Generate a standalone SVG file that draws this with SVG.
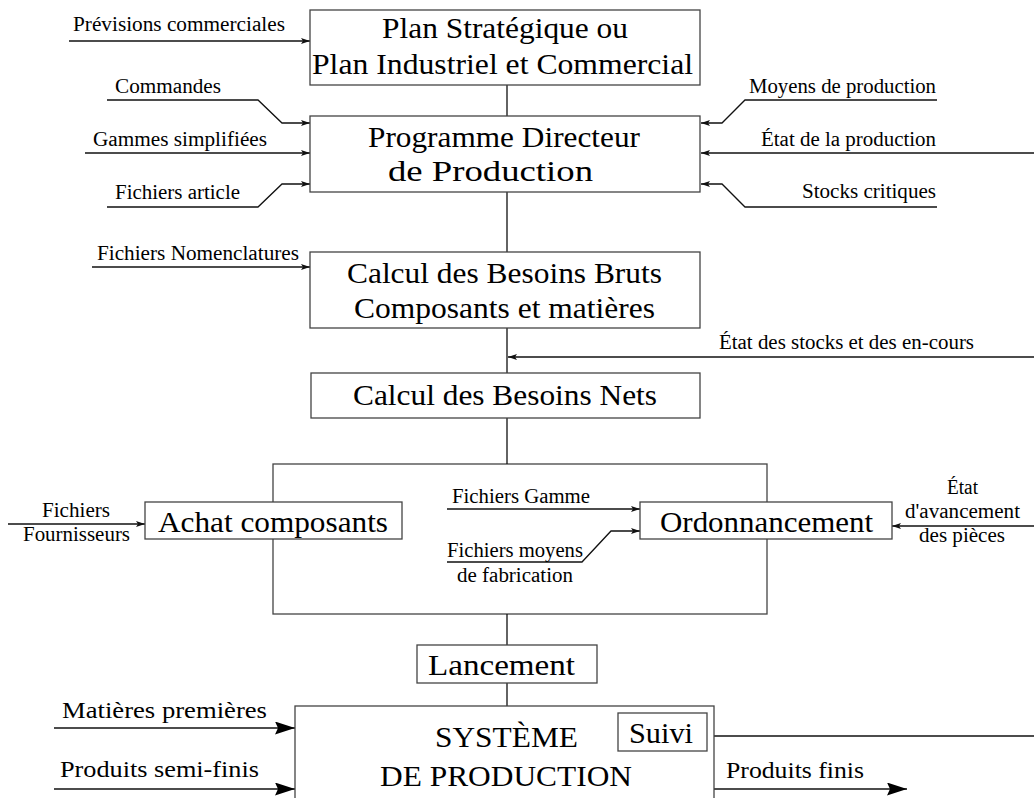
<svg xmlns="http://www.w3.org/2000/svg" width="1034" height="798" viewBox="0 0 1034 798">
<defs>
<style>
.box{fill:#fff;stroke:#444;stroke-width:1.3}
.ln{fill:none;stroke:#111;stroke-width:1.3}
.t{font-family:"Liberation Serif","Times New Roman",Times,serif;fill:#000}
.s{font-size:20px}
.b{font-size:30px}
.m{font-size:24px}
</style>
<marker id="a" markerWidth="10" markerHeight="7" refX="9" refY="3" orient="auto" markerUnits="userSpaceOnUse">
<path d="M0,0 L9,3 L0,6 L2,3 z" fill="#111"/>
</marker>
<marker id="A" markerWidth="21" markerHeight="14" refX="20" refY="6.5" orient="auto" markerUnits="userSpaceOnUse">
<path d="M0,0 L20,6.5 L0,13 L3,6.5 z" fill="#000"/>
</marker>
</defs>
<rect width="1034" height="798" fill="#fff"/>

<g id="groupe">
<rect class="box" x="273" y="464" width="494" height="150"/>
</g>

<g id="connectors">
<path class="ln" d="M507,85 V116 M507,192 V252 M507,328 V373 M507,418 V464 M507,614 V645 M507,683 V706"/>
<path class="ln" d="M69,41 H310" marker-end="url(#a)"/>
<path class="ln" d="M107,100 H258 L282,123 H310" marker-end="url(#a)"/>
<path class="ln" d="M85,153 H310" marker-end="url(#a)"/>
<path class="ln" d="M107,207 H258 L282,184 H310" marker-end="url(#a)"/>
<path class="ln" d="M937,100 H745 L722,123 H701" marker-end="url(#a)"/>
<path class="ln" d="M1034,153 H701" marker-end="url(#a)"/>
<path class="ln" d="M937,207 H745 L722,184 H701" marker-end="url(#a)"/>
<path class="ln" d="M92,267 H310" marker-end="url(#a)"/>
<path class="ln" d="M1034,357 H508" marker-end="url(#a)"/>
<path class="ln" d="M8,524 H145" marker-end="url(#a)"/>
<path class="ln" d="M447,509 H640" marker-end="url(#a)"/>
<path class="ln" d="M447,562 H582 L611,531 H640" marker-end="url(#a)"/>
<path class="ln" d="M1034,526 H892" marker-end="url(#a)"/>
<path class="ln" d="M54,728 H295" marker-end="url(#A)"/>
<path class="ln" d="M54,789 H295" marker-end="url(#A)"/>
<path class="ln" d="M707,736 H1034"/>
<path class="ln" d="M714,789 H907" marker-end="url(#A)"/>
</g>

<g id="labels">
<text class="t s" x="73" y="31" textLength="212" lengthAdjust="spacingAndGlyphs">Prévisions commerciales</text>
<text class="t s" x="115" y="93" textLength="106" lengthAdjust="spacingAndGlyphs">Commandes</text>
<text class="t s" x="93" y="146" textLength="174" lengthAdjust="spacingAndGlyphs">Gammes simplifiées</text>
<text class="t s" x="115" y="199" textLength="125" lengthAdjust="spacingAndGlyphs">Fichiers article</text>
<text class="t s" x="749" y="93" textLength="187" lengthAdjust="spacingAndGlyphs">Moyens de production</text>
<text class="t s" x="761" y="146" textLength="175" lengthAdjust="spacingAndGlyphs">État de la production</text>
<text class="t s" x="802" y="198" textLength="134" lengthAdjust="spacingAndGlyphs">Stocks critiques</text>
<text class="t s" x="97" y="260" textLength="202" lengthAdjust="spacingAndGlyphs">Fichiers Nomenclatures</text>
<text class="t s" x="719" y="349" textLength="255" lengthAdjust="spacingAndGlyphs">État des stocks et des en-cours</text>
<text class="t s" x="42" y="517" textLength="68" lengthAdjust="spacingAndGlyphs">Fichiers</text>
<text class="t s" x="23" y="541" textLength="107" lengthAdjust="spacingAndGlyphs">Fournisseurs</text>
<text class="t s" x="452" y="503" textLength="138" lengthAdjust="spacingAndGlyphs">Fichiers Gamme</text>
<text class="t s" x="447" y="557" textLength="136" lengthAdjust="spacingAndGlyphs">Fichiers moyens</text>
<text class="t s" x="457" y="582" textLength="116" lengthAdjust="spacingAndGlyphs">de fabrication</text>
<text class="t s" x="947" y="494" textLength="31" lengthAdjust="spacingAndGlyphs">État</text>
<text class="t s" x="905" y="518" textLength="115" lengthAdjust="spacingAndGlyphs">d'avancement</text>
<text class="t s" x="919" y="542" textLength="86" lengthAdjust="spacingAndGlyphs">des pièces</text>
<text class="t m" x="62" y="718" textLength="205" lengthAdjust="spacingAndGlyphs">Matières premières</text>
<text class="t m" x="60" y="777" textLength="199" lengthAdjust="spacingAndGlyphs">Produits semi-finis</text>
<text class="t m" x="726" y="778" textLength="138" lengthAdjust="spacingAndGlyphs">Produits finis</text>
</g>

<g id="plan">
<rect class="box" x="310" y="10" width="390" height="75"/>
<text class="t b" x="382" y="38" textLength="246" lengthAdjust="spacingAndGlyphs">Plan Stratégique ou</text>
<text class="t b" x="312" y="74" textLength="381" lengthAdjust="spacingAndGlyphs">Plan Industriel et Commercial</text>
</g>
<g id="pdp">
<rect class="box" x="310" y="116" width="390" height="76"/>
<text class="t b" x="368" y="147" textLength="272" lengthAdjust="spacingAndGlyphs">Programme Directeur</text>
<text class="t b" x="388" y="181" textLength="205" lengthAdjust="spacingAndGlyphs">de Production</text>
</g>
<g id="cbb">
<rect class="box" x="310" y="252" width="390" height="76"/>
<text class="t b" x="347" y="283" textLength="315" lengthAdjust="spacingAndGlyphs">Calcul des Besoins Bruts</text>
<text class="t b" x="354" y="318" textLength="301" lengthAdjust="spacingAndGlyphs">Composants et matières</text>
</g>
<g id="cbn">
<rect class="box" x="311" y="373" width="389" height="45"/>
<text class="t b" x="353" y="405" textLength="304" lengthAdjust="spacingAndGlyphs">Calcul des Besoins Nets</text>
</g>
<g id="achat">
<rect class="box" x="145" y="502" width="257" height="37"/>
<text class="t b" x="158" y="532" font-size="31" textLength="230" lengthAdjust="spacingAndGlyphs">Achat composants</text>
</g>
<g id="ordo">
<rect class="box" x="640" y="502" width="252" height="37"/>
<text class="t b" x="660" y="532" font-size="31" textLength="213" lengthAdjust="spacingAndGlyphs">Ordonnancement</text>
</g>
<g id="lancement">
<rect class="box" x="417" y="645" width="180" height="38"/>
<text class="t b" x="428" y="675" textLength="147" lengthAdjust="spacingAndGlyphs">Lancement</text>
</g>
<g id="systeme">
<rect class="box" x="295" y="706" width="419" height="110"/>
<text class="t b" x="435" y="747" textLength="143" lengthAdjust="spacingAndGlyphs">SYSTÈME</text>
<text class="t b" x="380" y="786" textLength="252" lengthAdjust="spacingAndGlyphs">DE PRODUCTION</text>
</g>
<g id="suivi">
<rect class="box" x="618" y="713" width="89" height="38"/>
<text class="t b" x="629" y="743" textLength="64" lengthAdjust="spacingAndGlyphs">Suivi</text>
</g>
</svg>
